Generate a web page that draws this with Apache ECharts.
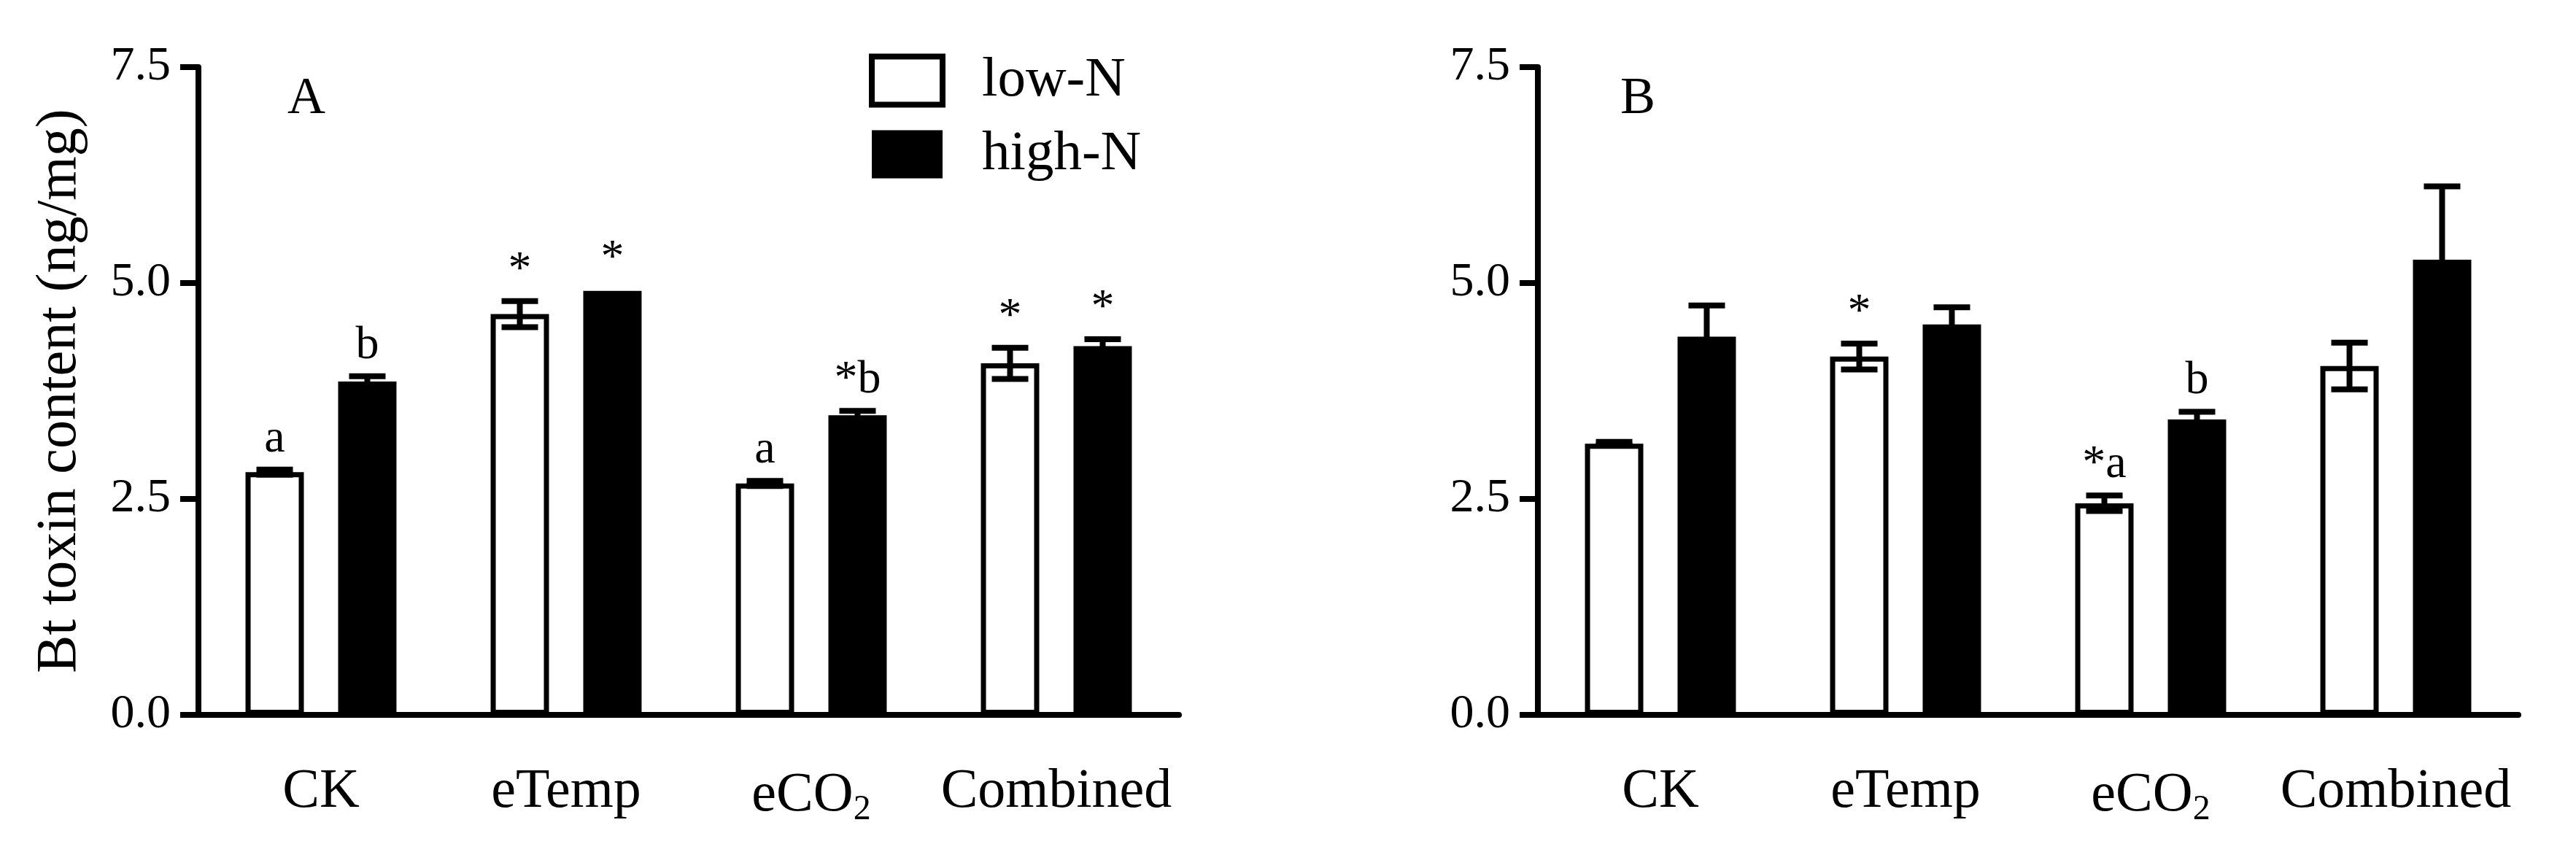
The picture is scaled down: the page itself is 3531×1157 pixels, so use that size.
<!DOCTYPE html>
<html>
<head>
<meta charset="utf-8">
<script src="https://cdn.jsdelivr.net/npm/echarts@6/dist/echarts.min.js"></script>
<style>
html,body{margin:0;padding:0;background:#fff;}
#chart{width:3531px;height:1157px;}
</style>
</head>
<body>
<div id="chart"></div>
<script>
// ---- data ----
const categories = ['CK', 'eTemp', 'eCO2', 'Combined'];
const yTicks = [0, 2.5, 5, 7.5];

const A_low = [2.81, 4.64, 2.68, 4.07];
const A_lowErr = [0.03, 0.15, 0.03, 0.18];
const A_high = [3.86, 4.91, 3.47, 4.27];
const A_highErr = [0.06, 0.01, 0.05, 0.08];
const A_lowLbl = ['a', '*', 'a', '*'];
const A_highLbl = ['b', '*', '*b', '*'];

const B_low = [3.14, 4.15, 2.45, 4.04];
const B_lowErr = [0.02, 0.15, 0.09, 0.27];
const B_high = [4.38, 4.52, 3.42, 5.27];
const B_highErr = [0.36, 0.20, 0.09, 0.85];
const B_lowLbl = ['', '*', '*a', ''];
const B_highLbl = ['', '', 'b', ''];

// ---- styling ----
const FONT = 'Liberation Serif';
const BAR_FRAC = 0.238;
const BAR_GAP = 0.5875;
const LW = 8;

const chart = echarts.init(document.getElementById('chart'));

function grid(left) {
  return {left: left, top: 92, width: 1344, height: 888, containLabel: false};
}
function xAxis(gi) {
  return {
    type: 'category', gridIndex: gi, data: categories,
    axisLine: {lineStyle: {color: '#000', width: LW}},
    axisTick: {show: false},
    axisLabel: {
      interval: 0, hideOverlap: false,
      color: '#000', fontFamily: FONT, fontSize: 76, margin: 68,
      formatter: v => v === 'eCO2' ? 'eCO{s|2}' : v,
      rich: {s: {fontSize: 48, fontFamily: FONT, color: '#000', padding: [38, 0, 0, 0]}}
    }
  };
}
function yAxis(gi, withName) {
  const o = {
    type: 'value', gridIndex: gi, min: yTicks[0], max: yTicks[yTicks.length - 1], interval: 2.5,
    splitLine: {show: false},
    axisLine: {show: true, lineStyle: {color: '#000', width: LW}},
    axisTick: {show: true, length: 25, lineStyle: {color: '#000', width: LW}},
    axisLabel: {color: '#000', fontFamily: FONT, fontSize: 66, margin: 38,
      formatter: v => v.toFixed(1)}
  };
  if (withName) {
    o.name = 'Bt toxin content (ng/mg)';
    o.nameLocation = 'middle';
    o.nameGap = 150;
    o.nameTextStyle = {color: '#000', fontFamily: FONT, fontSize: 78};
  }
  return o;
}
function barSeries(name, gi, vals) {
  const low = name === 'low-N';
  return {
    name: name, type: 'bar', xAxisIndex: gi, yAxisIndex: gi, data: vals,
    barWidth: (BAR_FRAC * 100) + '%', barGap: (BAR_GAP * 100) + '%',
    itemStyle: {color: low ? '#fff' : '#000', borderColor: '#000', borderWidth: 7},
    emphasis: {disabled: true}, z: 2
  };
}
function errSeries(gi, side, vals, errs, lbls) {
  const data = vals.map((v, i) => [i, v, errs[i], lbls[i]]);
  return {
    type: 'custom', xAxisIndex: gi, yAxisIndex: gi, data: data, z: 5,
    renderItem: function (params, api) {
      const ci = api.value(0), v = api.value(1), e = api.value(2);
      const lbl = data[params.dataIndex][3];
      const band = api.size([1, 0])[0];
      const bw = band * BAR_FRAC;
      const off = side * bw * (1 + BAR_GAP) / 2;
      const top = api.coord([ci, v + e]);
      const bot = api.coord([ci, v - e]);
      const x = top[0] + off;
      const cap = 50;
      const children = [];
      if (e > 0.015) {
        children.push({type: 'line', shape: {x1: x, y1: top[1], x2: x, y2: bot[1]}, style: {stroke: '#000', lineWidth: LW}});
        children.push({type: 'line', shape: {x1: x - cap / 2, y1: top[1], x2: x + cap / 2, y2: top[1]}, style: {stroke: '#000', lineWidth: LW}});
        children.push({type: 'line', shape: {x1: x - cap / 2, y1: bot[1], x2: x + cap / 2, y2: bot[1]}, style: {stroke: '#000', lineWidth: LW}});
      }
      if (lbl) {
        children.push({type: 'text', x: x, y: top[1] - 10,
          style: {text: lbl, fill: '#000', font: '64px "' + FONT + '"', textAlign: 'center', textVerticalAlign: 'bottom'}});
      }
      return {type: 'group', children: children};
    }
  };
}

const option = {
  backgroundColor: '#fff',
  animation: false,
  title: [
    {text: 'A', left: 394, top: 100, padding: 0, textStyle: {fontFamily: FONT, fontSize: 72, fontWeight: 'normal', color: '#000'}},
    {text: 'B', left: 2221, top: 100, padding: 0, textStyle: {fontFamily: FONT, fontSize: 72, fontWeight: 'normal', color: '#000'}}
  ],
  legend: {
    orient: 'vertical', left: 1191, top: 72, padding: 0,
    itemWidth: 97, itemHeight: 66, itemGap: 24,
    textStyle: {fontFamily: FONT, fontSize: 77, color: '#000', padding: [0, 0, 0, 49]},
    data: [
      {name: 'low-N', icon: 'rect', itemStyle: {color: '#fff', borderColor: '#000', borderWidth: 8}},
      {name: 'high-N', icon: 'rect', itemStyle: {color: '#000', borderColor: '#000', borderWidth: 0}}
    ]
  },
  grid: [grid(272), grid(2108)],
  xAxis: [xAxis(0), xAxis(1)],
  yAxis: [yAxis(0, true), yAxis(1, false)],
  series: [
    barSeries('low-N', 0, A_low), barSeries('high-N', 0, A_high),
    barSeries('low-N', 1, B_low), barSeries('high-N', 1, B_high),
    errSeries(0, -1, A_low, A_lowErr, A_lowLbl), errSeries(0, 1, A_high, A_highErr, A_highLbl),
    errSeries(1, -1, B_low, B_lowErr, B_lowLbl), errSeries(1, 1, B_high, B_highErr, B_highLbl)
  ]
};
chart.setOption(option);
</script>
</body>
</html>
